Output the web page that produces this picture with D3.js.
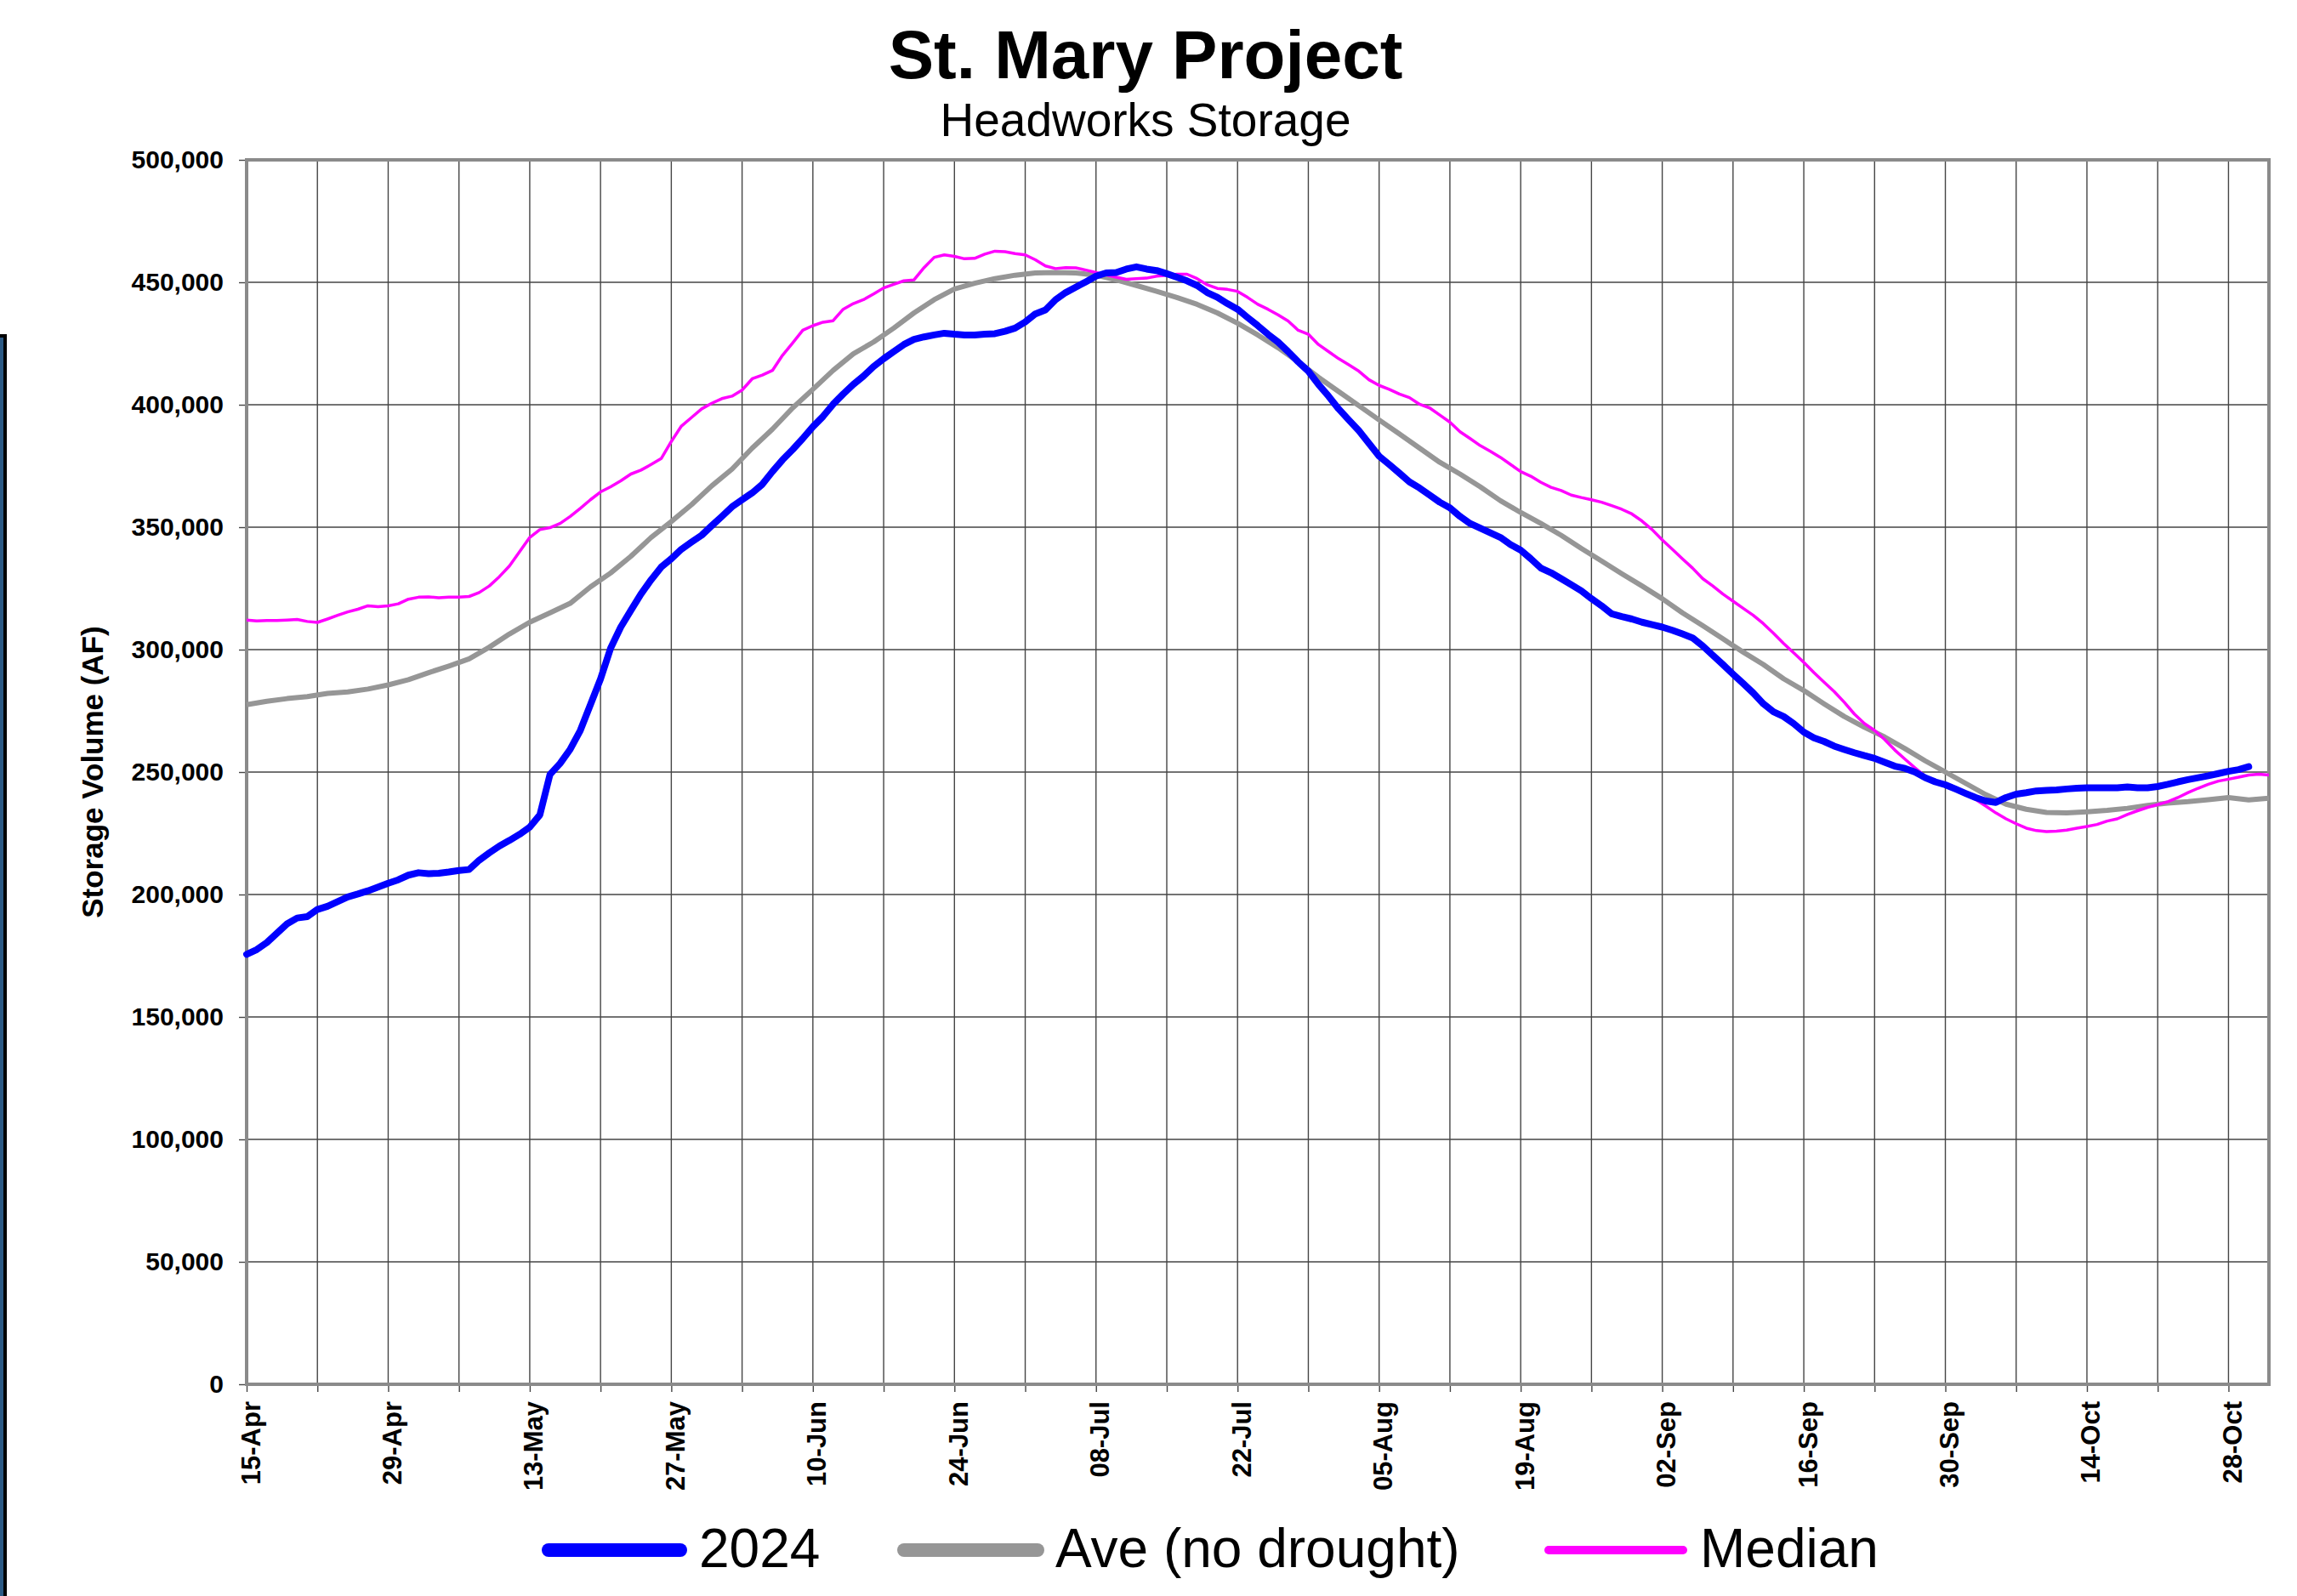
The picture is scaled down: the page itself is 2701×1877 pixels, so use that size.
<!DOCTYPE html>
<html>
<head>
<meta charset="utf-8">
<script src="https://cdn.jsdelivr.net/npm/d3@7"></script>
<style>
  body { margin: 0; background: #fff; }
  svg { display: block; font-family: "Liberation Sans", Arial, sans-serif; }
</style>
</head>
<body>
<svg id="chart" width="2701" height="1877"></svg>
<script>
// data: daily storage (AF) starting 15-Apr
const startDate = new Date(Date.UTC(2024, 3, 15));
const endDate = new Date(Date.UTC(2024, 10, 1));

const values2024 = [
  175600, 177500, 180400, 184200, 188000, 190400, 191000, 193900, 195200, 197100,
  199000, 200200, 201500, 203000, 204600, 206000, 207900, 208900, 208500, 208700,
  209200, 209800, 210200, 214000, 217000, 219800, 222100, 224600, 227500, 232500,
  249000, 253500, 259300, 267000, 277500, 288000, 300600, 309200, 316000, 322700,
  328500, 333700, 337100, 341000, 343900, 346700, 350600, 354400, 358300, 361200,
  364000, 367500, 372700, 377500, 381700, 386200, 391000, 395200, 400200, 404400,
  408300, 411700, 415600, 418800, 421700, 424600, 426700, 427700, 428500, 429200,
  428800, 428500, 428500, 428800, 429000, 430000, 431300, 433800, 437100, 438700,
  442900, 445800, 448000, 450200, 452500, 453800, 454000, 455400, 456300, 455400,
  454800, 453500, 452100, 450600, 448700, 445800, 443900, 441300, 439000, 435600,
  432300, 428800, 425600, 421700, 417500, 413700, 408300, 403500, 398300, 393800,
  389400, 384200, 379000, 375600, 372100, 368500, 366000, 363100, 360200, 357900,
  354400, 351500, 349600, 347700, 345800, 342900, 340600, 337100, 333300, 331400,
  329000, 326500, 324000, 320800, 317900, 314600, 313500, 312500, 311200, 310200,
  309200, 307900, 306400, 304800, 301500, 297700, 293900, 290000, 286200, 282300,
  277900, 274600, 272700, 269800, 266300, 264000, 262500, 260600, 259200, 257900,
  256700, 255600, 254000, 252400, 251500, 250000, 247700, 246000, 244800, 243100,
  241300, 239600, 238200, 237600, 239600, 241000, 241600, 242300, 242500, 242700,
  243100, 243400, 243600, 243600, 243600, 243600, 243900, 243600, 243600, 244100,
  245000, 246000, 246900, 247700, 248500, 249400, 250300, 251000, 252200
];

const medianValues = [
  312100, 311700, 311900, 311900, 312100, 312300, 311500, 311100, 312500, 314000,
  315400, 316500, 317900, 317500, 317900, 318700, 320600, 321400, 321500, 321200,
  321400, 321400, 321700, 323300, 326000, 329800, 334200, 340000, 345800, 349000,
  349800, 351500, 354400, 357700, 361200, 364400, 366500, 368900, 371700, 373300,
  375600, 378000, 385000, 391300, 394800, 398300, 400600, 402500, 403500, 406000,
  410600, 412100, 414000, 420200, 425200, 430400, 432300, 433700, 434300, 439000,
  441300, 442900, 445200, 447700, 449200, 450600, 451000, 456000, 460200, 461200,
  460600, 459600, 459800, 461500, 462700, 462500, 461700, 461200, 459200, 456700,
  455600, 456000, 455900, 455000, 454000, 453000, 452100, 451200, 451500, 451700,
  452500, 452900, 453300, 453300, 451500, 449000, 447500, 447100, 446300, 443800,
  441000, 439000, 436700, 434200, 430400, 428800, 424600, 421700, 418800, 416300,
  413700, 410200, 407900, 406300, 404400, 402900, 400200, 398700, 395800, 392900,
  389000, 386200, 383300, 381000, 378500, 375600, 372700, 370800, 368300, 366300,
  365000, 363100, 362100, 361200, 360200, 358800, 357300, 355400, 352500, 349000,
  344800, 341000, 337100, 333300, 329000, 326000, 322700, 319800, 316900, 314000,
  310600, 306700, 302500, 298700, 294800, 290600, 286700, 282900, 278500, 273700,
  269800, 267000, 263300, 259000, 255300, 251700, 248300, 246200, 244800, 242700,
  240800, 238800, 236100, 233300, 230900, 228900, 227100, 226100, 225700, 225900,
  226300, 227100, 227800, 228600, 230000, 230900, 232700, 234200, 235600, 236700,
  237900, 239600, 241600, 243400, 245000, 246300, 247100, 247900, 248800, 249100,
  248800
];

// average read every second day
const aveDayOffsets = d3.range(0, 201, 2);
const aveValues = [
  277500, 278900, 280000, 280800, 282100, 282700, 283900, 285600, 287700, 290600,
  293300, 296200, 301000, 306400, 311200, 315000, 318900, 325600, 331300, 338100,
  345800, 352300, 359200, 366900, 373700, 382300, 390000, 398700, 406300, 414000,
  420800, 425600, 431300, 437500, 442900, 447300, 449600, 451500, 452900, 453800,
  454000, 453800, 452900, 451000, 448700, 446300, 443800, 441000, 437500, 433300,
  428500, 423300, 417500, 411200, 405400, 399600, 393800, 388100, 382300, 376500,
  371700, 366500, 360800, 356000, 351500, 346700, 341300, 336200, 331000, 326000,
  320800, 315000, 309800, 304400, 299000, 293900, 288100, 283300, 277900, 272700,
  268300, 264300, 259600, 254600, 250000, 245400, 240800, 236900, 234800, 233500,
  233300, 233800, 234400, 235200, 236400, 237300, 237900, 238700, 239600, 238600,
  239300
];

const yTicks = d3.range(0, 500001, 50000);
const gridDayOffsets = d3.range(0, 201, 7);
const labelDayOffsets = d3.range(0, 197, 14);

const seriesNames = ["2024", "Ave (no drought)", "Median"];
const seriesColors = ["#0000ff", "#969696", "#ff00ff"];

const margin = { top: 188, right: 33, bottom: 249, left: 290 };
const width = 2701 - margin.left - margin.right;
const height = 1877 - margin.top - margin.bottom;

const dayToDate = d => d3.utcDay.offset(startDate, d);

const svg = d3.select("#chart");

// window edge at left
svg.append("rect")
  .attr("x", -4).attr("y", 395)
  .attr("width", 10).attr("height", 1500)
  .attr("fill", "#2c5a85")
  .attr("stroke", "#000")
  .attr("stroke-width", 4);

svg.append("text")
  .attr("x", 1347).attr("y", 92)
  .attr("text-anchor", "middle")
  .attr("font-size", 80).attr("font-weight", "bold")
  .text("St. Mary Project");

svg.append("text")
  .attr("x", 1347).attr("y", 160)
  .attr("text-anchor", "middle")
  .attr("font-size", 55)
  .text("Headworks Storage");

const g = svg.append("g")
  .attr("transform", "translate(" + margin.left + "," + margin.top + ")");

const x = d3.scaleUtc().domain([startDate, endDate]).range([0, width]);
const y = d3.scaleLinear().domain([0, 500000]).range([height, 0]);

// gridlines
g.append("g")
  .selectAll("line")
  .data(yTicks)
  .enter()
  .append("line")
  .attr("x1", 0).attr("x2", width)
  .attr("y1", d => y(d)).attr("y2", d => y(d))
  .attr("stroke", "#454545").attr("stroke-width", 1.4);

g.append("g")
  .selectAll("line")
  .data(gridDayOffsets)
  .enter()
  .append("line")
  .attr("x1", d => x(dayToDate(d))).attr("x2", d => x(dayToDate(d)))
  .attr("y1", 0).attr("y2", height)
  .attr("stroke", "#454545").attr("stroke-width", 1.4);

// y axis
const yAxis = g.append("g")
  .call(d3.axisLeft(y).tickValues(yTicks).tickFormat(d3.format(",")).tickSize(9).tickPadding(18));
yAxis.select(".domain").remove();
yAxis.selectAll("line").attr("stroke", "#454545").attr("stroke-width", 1.4);
yAxis.selectAll("text")
  .attr("font-size", 30).attr("font-weight", "bold")
  .attr("font-family", "'Liberation Sans', Arial, sans-serif")
  .attr("fill", "#000");

// x axis
const xAxis = g.append("g")
  .attr("transform", "translate(0," + height + ")")
  .call(d3.axisBottom(x).tickValues(gridDayOffsets.map(dayToDate)).tickSize(9).tickFormat(""));
xAxis.select(".domain").remove();
xAxis.selectAll("line").attr("stroke", "#454545").attr("stroke-width", 1.4);

g.append("g")
  .selectAll("text")
  .data(labelDayOffsets)
  .enter()
  .append("text")
  .attr("transform", d => "translate(" + x(dayToDate(d)) + "," + (height + 20) + ")rotate(-90)")
  .attr("dy", "0.5em")
  .attr("text-anchor", "end")
  .attr("font-size", 31).attr("font-weight", "bold")
  .text(d => d3.utcFormat("%d-%b")(dayToDate(d)));

// frame
g.append("rect")
  .attr("width", width).attr("height", height)
  .attr("fill", "none")
  .attr("stroke", "#8a8a8a").attr("stroke-width", 4);

svg.append("text")
  .attr("transform", "translate(121," + (margin.top + height / 2) + ")rotate(-90)")
  .attr("text-anchor", "middle")
  .attr("font-size", 35).attr("font-weight", "bold")
  .text("Storage Volume (AF)");

// series
const line = d3.line()
  .x(d => x(dayToDate(d[0])))
  .y(d => y(d[1]));

const aveData = aveDayOffsets.map((d, i) => [d, aveValues[i]]);
const medianData = medianValues.map((v, i) => [i, v]);
const data2024 = values2024.map((v, i) => [i, v]);

g.append("path")
  .datum(aveData)
  .attr("d", line)
  .attr("fill", "none")
  .attr("stroke", seriesColors[1]).attr("stroke-width", 6)
  .attr("stroke-linejoin", "round");

g.append("path")
  .datum(medianData)
  .attr("d", line)
  .attr("fill", "none")
  .attr("stroke", seriesColors[2]).attr("stroke-width", 3.5)
  .attr("stroke-linejoin", "round");

g.append("path")
  .datum(data2024)
  .attr("d", line)
  .attr("fill", "none")
  .attr("stroke", seriesColors[0]).attr("stroke-width", 8)
  .attr("stroke-linejoin", "round").attr("stroke-linecap", "round");

// legend
const legendItems = [
  { x1: 645, x2: 800, w: 16, tx: 822 },
  { x1: 1063, x2: 1220, w: 16, tx: 1241 },
  { x1: 1821, x2: 1979, w: 10, tx: 1999 }
];

const legend = svg.append("g");
legendItems.forEach((item, i) => {
  legend.append("line")
    .attr("x1", item.x1).attr("x2", item.x2)
    .attr("y1", 1823).attr("y2", 1823)
    .attr("stroke", seriesColors[i]).attr("stroke-width", item.w)
    .attr("stroke-linecap", "round");
  legend.append("text")
    .attr("x", item.tx).attr("y", 1843)
    .attr("font-size", 64)
    .text(seriesNames[i]);
});
</script>
</body>
</html>
